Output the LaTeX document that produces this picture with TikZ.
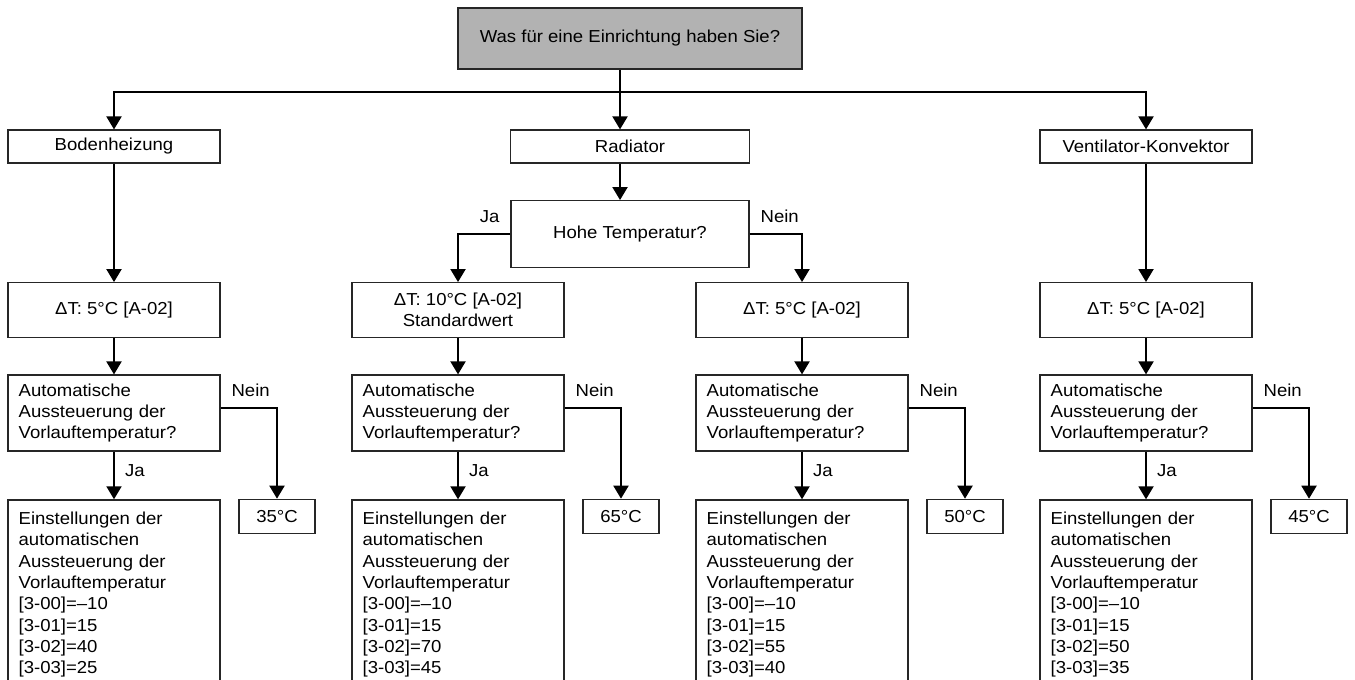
\documentclass[tikz,border=0pt]{standalone}
\usepackage{fontspec}
\setmainfont{Liberation Sans}[FakeStretch=1.07]
\usetikzlibrary{arrows.meta}
\tikzstyle{stepBox}=[shape = rectangle, draw = black!85, line width = 0.9pt, inner sep = 0pt, font = \fontsize{13pt}{16pt}\selectfont]
\tikzstyle{typeBox}=[stepBox, minimum width = 159pt, minimum height = 24.75pt]
\tikzstyle{deltaBox}=[stepBox, align = center, minimum width = 159pt, minimum height = 41pt]
\tikzstyle{questionBox}=[stepBox, align = left, inner xsep = 8pt, text width = 143pt, minimum height = 57pt]
\tikzstyle{curveBox}=[stepBox, align = left, inner xsep = 8pt, inner ysep = 9pt, text width = 143pt, anchor = north]
\tikzstyle{tempBox}=[stepBox, minimum width = 57pt, minimum height = 25.5pt]

\begin{document}
\begin{tikzpicture}[x = 0.75pt, y = -0.75pt]
\tikzstyle{flowArrow}=[line width = 1.5pt, -{Triangle[width = 11.25pt, length = 9.75pt]}]
\tikzstyle{answerLabel}=[inner sep = 7.5pt, font = \fontsize{13pt}{16pt}\selectfont]
\clip (0,0) rectangle (1355,680);

\node[stepBox, fill = black!30, minimum width = 258pt, minimum height = 45.75pt] (kind) at (630,38.5) {Was für eine Einrichtung haben Sie?};
\node[typeBox] (floor) at (114,146.5) {Bodenheizung};
\node[typeBox, minimum width = 179.25pt] (rad) at (630,146.5) {Radiator};
\node[typeBox] (fan) at (1146,146.5) {Ventilator-Konvektor};
\node[stepBox, minimum width = 178.5pt, minimum height = 50pt] (high) at (630,234) {Hohe Temperatur?};

\node[deltaBox] (dtA) at (114,310) {ΔT: 5°C [A-02]};
\node[deltaBox] (dtB) at (458,310) {ΔT: 10°C [A-02]\\Standardwert};
\node[deltaBox] (dtC) at (802,310) {ΔT: 5°C [A-02]};
\node[deltaBox] (dtD) at (1146,310) {ΔT: 5°C [A-02]};

\node[questionBox] (autoA) at (114,413) {Automatische\\Aussteuerung der\\Vorlauftemperatur?};
\node[questionBox] (autoB) at (458,413) {Automatische\\Aussteuerung der\\Vorlauftemperatur?};
\node[questionBox] (autoC) at (802,413) {Automatische\\Aussteuerung der\\Vorlauftemperatur?};
\node[questionBox] (autoD) at (1146,413) {Automatische\\Aussteuerung der\\Vorlauftemperatur?};

\node[curveBox] (curveA) at (114,499.3) {Einstellungen der\\automatischen\\Aussteuerung der\\Vorlauftemperatur\\{}[3-00]=–10\\{}[3-01]=15\\{}[3-02]=40\\{}[3-03]=25};
\node[curveBox] (curveB) at (458,499.3) {Einstellungen der\\automatischen\\Aussteuerung der\\Vorlauftemperatur\\{}[3-00]=–10\\{}[3-01]=15\\{}[3-02]=70\\{}[3-03]=45};
\node[curveBox] (curveC) at (802,499.3) {Einstellungen der\\automatischen\\Aussteuerung der\\Vorlauftemperatur\\{}[3-00]=–10\\{}[3-01]=15\\{}[3-02]=55\\{}[3-03]=40};
\node[curveBox] (curveD) at (1146,499.3) {Einstellungen der\\automatischen\\Aussteuerung der\\Vorlauftemperatur\\{}[3-00]=–10\\{}[3-01]=15\\{}[3-02]=50\\{}[3-03]=35};

\node[tempBox] (tempA) at (277,516.3) {35°C};
\node[tempBox] (tempB) at (621,516.3) {65°C};
\node[tempBox] (tempC) at (965,516.3) {50°C};
\node[tempBox] (tempD) at (1309,516.3) {45°C};

\coordinate (split) at (620,92);
\draw[line width = 1.5pt] (kind.south -| split) -- (split);
\draw[flowArrow] (split) -| (floor.north);
\draw[flowArrow] (split) -| (fan.north);
\draw[flowArrow] (split) -- (rad.north -| split);
\draw[flowArrow] (rad.south -| split) -- (high.north -| split);
\draw[flowArrow] (high.west) -| node[pos = 0, anchor = south east, answerLabel] {Ja} (dtB.north);
\draw[flowArrow] (high.east) -| node[pos = 0, anchor = south west, answerLabel] {Nein} (dtC.north);
\draw[flowArrow] (floor) -- (dtA);
\draw[flowArrow] (fan) -- (dtD);

\draw[flowArrow] (dtA) -- (autoA);
\draw[flowArrow] (dtB) -- (autoB);
\draw[flowArrow] (dtC) -- (autoC);
\draw[flowArrow] (dtD) -- (autoD);

\draw[flowArrow] (autoA) -- node[pos = 0.4, right, answerLabel] {Ja} (curveA);
\draw[flowArrow] (autoB) -- node[pos = 0.4, right, answerLabel] {Ja} (curveB);
\draw[flowArrow] (autoC) -- node[pos = 0.4, right, answerLabel] {Ja} (curveC);
\draw[flowArrow] (autoD) -- node[pos = 0.4, right, answerLabel] {Ja} (curveD);

\draw[flowArrow] ([yshift = 3.75pt]autoA.east) -| node[pos = 0, anchor = south west, answerLabel] {Nein} (tempA);
\draw[flowArrow] ([yshift = 3.75pt]autoB.east) -| node[pos = 0, anchor = south west, answerLabel] {Nein} (tempB);
\draw[flowArrow] ([yshift = 3.75pt]autoC.east) -| node[pos = 0, anchor = south west, answerLabel] {Nein} (tempC);
\draw[flowArrow] ([yshift = 3.75pt]autoD.east) -| node[pos = 0, anchor = south west, answerLabel] {Nein} (tempD);
\end{tikzpicture}
\end{document}
